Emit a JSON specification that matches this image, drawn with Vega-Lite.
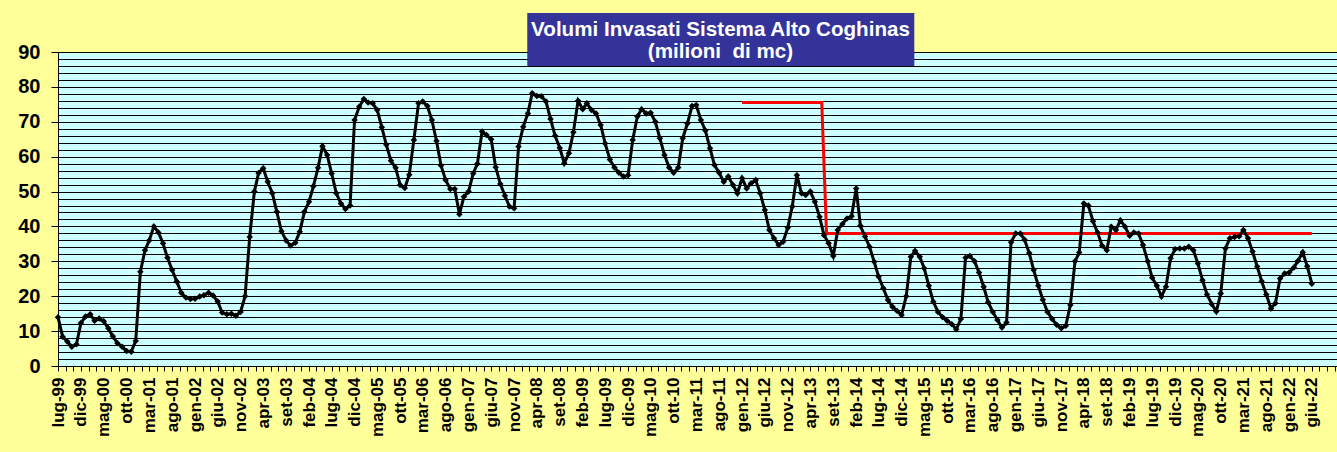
{
  "$schema": "https://vega.github.io/schema/vega-lite/v6.json",
  "autosize": {"type": "none"},
  "padding": {"left": 58, "top": 52, "right": 0, "bottom": 86},
  "width": 1279,
  "height": 314,
  "background": "#FFFF99",
  "title": {
    "text": ["Volumi Invasati Sistema Alto Coghinas", "(milioni \u00a0di mc)"],
    "font": "Liberation Sans",
    "fontSize": 20.6,
    "fontWeight": "bold",
    "color": "#FFFFFF",
    "lineHeight": 22,
    "anchor": "middle",
    "dx": 23,
    "offset": -50
  },
  "config": {
    "view": {"fill": "#CCFFFF", "stroke": "#000000", "strokeWidth": 1},
    "axis": {"labelFont": "Liberation Sans", "labelFontWeight": "bold", "labelColor": "#000000"}
  },
  "datasets": {
    "volumi": [
      {"d": "1999-07", "v": 14}, {"d": "1999-08", "v": 8.4}, {"d": "1999-09", "v": 7}, {"d": "1999-10", "v": 5.5}, {"d": "1999-11", "v": 6.2}, {"d": "1999-12", "v": 12.3},
      {"d": "2000-01", "v": 14.2}, {"d": "2000-02", "v": 14.8}, {"d": "2000-03", "v": 13}, {"d": "2000-04", "v": 13.6}, {"d": "2000-05", "v": 12.8}, {"d": "2000-06", "v": 10.8}, {"d": "2000-07", "v": 8.5}, {"d": "2000-08", "v": 6.5}, {"d": "2000-09", "v": 5.5}, {"d": "2000-10", "v": 4.3}, {"d": "2000-11", "v": 4.1}, {"d": "2000-12", "v": 7.2},
      {"d": "2001-01", "v": 27}, {"d": "2001-02", "v": 33.2}, {"d": "2001-03", "v": 36}, {"d": "2001-04", "v": 40}, {"d": "2001-05", "v": 38.3}, {"d": "2001-06", "v": 35.2}, {"d": "2001-07", "v": 31}, {"d": "2001-08", "v": 27.5}, {"d": "2001-09", "v": 24.2}, {"d": "2001-10", "v": 21}, {"d": "2001-11", "v": 19.6}, {"d": "2001-12", "v": 19.2},
      {"d": "2002-01", "v": 19.3}, {"d": "2002-02", "v": 19.9}, {"d": "2002-03", "v": 20.3}, {"d": "2002-04", "v": 21}, {"d": "2002-05", "v": 20.2}, {"d": "2002-06", "v": 18.5}, {"d": "2002-07", "v": 15.3}, {"d": "2002-08", "v": 14.8}, {"d": "2002-09", "v": 15}, {"d": "2002-10", "v": 14.4}, {"d": "2002-11", "v": 15.5}, {"d": "2002-12", "v": 20},
      {"d": "2003-01", "v": 37}, {"d": "2003-02", "v": 50}, {"d": "2003-03", "v": 55.3}, {"d": "2003-04", "v": 56.7}, {"d": "2003-05", "v": 52.8}, {"d": "2003-06", "v": 49.5}, {"d": "2003-07", "v": 44.2}, {"d": "2003-08", "v": 38.6}, {"d": "2003-09", "v": 36}, {"d": "2003-10", "v": 34.5}, {"d": "2003-11", "v": 35.3}, {"d": "2003-12", "v": 38.5},
      {"d": "2004-01", "v": 44.2}, {"d": "2004-02", "v": 47.1}, {"d": "2004-03", "v": 51.5}, {"d": "2004-04", "v": 56.8}, {"d": "2004-05", "v": 63}, {"d": "2004-06", "v": 60.5}, {"d": "2004-07", "v": 55.2}, {"d": "2004-08", "v": 49.5}, {"d": "2004-09", "v": 46.6}, {"d": "2004-10", "v": 45}, {"d": "2004-11", "v": 46}, {"d": "2004-12", "v": 70.5},
      {"d": "2005-01", "v": 74.3}, {"d": "2005-02", "v": 76.5}, {"d": "2005-03", "v": 75.5}, {"d": "2005-04", "v": 75.3}, {"d": "2005-05", "v": 73.4}, {"d": "2005-06", "v": 68.4}, {"d": "2005-07", "v": 63.4}, {"d": "2005-08", "v": 58.8}, {"d": "2005-09", "v": 56.8}, {"d": "2005-10", "v": 51.9}, {"d": "2005-11", "v": 51}, {"d": "2005-12", "v": 54.8},
      {"d": "2006-01", "v": 64.8}, {"d": "2006-02", "v": 75.3}, {"d": "2006-03", "v": 75.8}, {"d": "2006-04", "v": 74.5}, {"d": "2006-05", "v": 70.5}, {"d": "2006-06", "v": 64.5}, {"d": "2006-07", "v": 57.5}, {"d": "2006-08", "v": 53.3}, {"d": "2006-09", "v": 50.7}, {"d": "2006-10", "v": 50.7}, {"d": "2006-11", "v": 43.5}, {"d": "2006-12", "v": 48.5},
      {"d": "2007-01", "v": 50}, {"d": "2007-02", "v": 55.2}, {"d": "2007-03", "v": 58}, {"d": "2007-04", "v": 67.2}, {"d": "2007-05", "v": 66.2}, {"d": "2007-06", "v": 65}, {"d": "2007-07", "v": 57}, {"d": "2007-08", "v": 52.2}, {"d": "2007-09", "v": 48.8}, {"d": "2007-10", "v": 45.7}, {"d": "2007-11", "v": 45.2}, {"d": "2007-12", "v": 62.9},
      {"d": "2008-01", "v": 68.6}, {"d": "2008-02", "v": 72.4}, {"d": "2008-03", "v": 78.2}, {"d": "2008-04", "v": 77.4}, {"d": "2008-05", "v": 77.3}, {"d": "2008-06", "v": 75.8}, {"d": "2008-07", "v": 70.8}, {"d": "2008-08", "v": 66}, {"d": "2008-09", "v": 62.5}, {"d": "2008-10", "v": 58.1}, {"d": "2008-11", "v": 61}, {"d": "2008-12", "v": 67},
      {"d": "2009-01", "v": 76}, {"d": "2009-02", "v": 73.6}, {"d": "2009-03", "v": 75.3}, {"d": "2009-04", "v": 73.4}, {"d": "2009-05", "v": 72.4}, {"d": "2009-06", "v": 69.1}, {"d": "2009-07", "v": 63.8}, {"d": "2009-08", "v": 59.2}, {"d": "2009-09", "v": 56.9}, {"d": "2009-10", "v": 55.4}, {"d": "2009-11", "v": 54.3}, {"d": "2009-12", "v": 54.7},
      {"d": "2010-01", "v": 64.8}, {"d": "2010-02", "v": 71.5}, {"d": "2010-03", "v": 73.6}, {"d": "2010-04", "v": 72.4}, {"d": "2010-05", "v": 72.6}, {"d": "2010-06", "v": 70}, {"d": "2010-07", "v": 65.3}, {"d": "2010-08", "v": 60.5}, {"d": "2010-09", "v": 56.9}, {"d": "2010-10", "v": 55.4}, {"d": "2010-11", "v": 56.9}, {"d": "2010-12", "v": 65.3},
      {"d": "2011-01", "v": 69.5}, {"d": "2011-02", "v": 74.5}, {"d": "2011-03", "v": 74.8}, {"d": "2011-04", "v": 70.5}, {"d": "2011-05", "v": 67.5}, {"d": "2011-06", "v": 62.4}, {"d": "2011-07", "v": 57.6}, {"d": "2011-08", "v": 55.4}, {"d": "2011-09", "v": 52.8}, {"d": "2011-10", "v": 54.3}, {"d": "2011-11", "v": 51.9}, {"d": "2011-12", "v": 49.5},
      {"d": "2012-01", "v": 53.8}, {"d": "2012-02", "v": 50.9}, {"d": "2012-03", "v": 52.4}, {"d": "2012-04", "v": 53.3}, {"d": "2012-05", "v": 49.5}, {"d": "2012-06", "v": 44.7}, {"d": "2012-07", "v": 39}, {"d": "2012-08", "v": 36.6}, {"d": "2012-09", "v": 34.7}, {"d": "2012-10", "v": 35.6}, {"d": "2012-11", "v": 39.6}, {"d": "2012-12", "v": 45.7},
      {"d": "2013-01", "v": 54.7}, {"d": "2013-02", "v": 49.5}, {"d": "2013-03", "v": 49}, {"d": "2013-04", "v": 50}, {"d": "2013-05", "v": 47.1}, {"d": "2013-06", "v": 42.8}, {"d": "2013-07", "v": 37.5}, {"d": "2013-08", "v": 35.2}, {"d": "2013-09", "v": 31.5}, {"d": "2013-10", "v": 39}, {"d": "2013-11", "v": 40.7}, {"d": "2013-12", "v": 42.3},
      {"d": "2014-01", "v": 42.9}, {"d": "2014-02", "v": 50.9}, {"d": "2014-03", "v": 40.2}, {"d": "2014-04", "v": 37.1}, {"d": "2014-05", "v": 34.2}, {"d": "2014-06", "v": 29.9}, {"d": "2014-07", "v": 25.6}, {"d": "2014-08", "v": 22.3}, {"d": "2014-09", "v": 18.9}, {"d": "2014-10", "v": 17}, {"d": "2014-11", "v": 15.8}, {"d": "2014-12", "v": 14.6},
      {"d": "2015-01", "v": 20}, {"d": "2015-02", "v": 31.3}, {"d": "2015-03", "v": 33}, {"d": "2015-04", "v": 31.3}, {"d": "2015-05", "v": 28}, {"d": "2015-06", "v": 23}, {"d": "2015-07", "v": 18.4}, {"d": "2015-08", "v": 15.5}, {"d": "2015-09", "v": 14}, {"d": "2015-10", "v": 13}, {"d": "2015-11", "v": 12}, {"d": "2015-12", "v": 10.5},
      {"d": "2016-01", "v": 13.5}, {"d": "2016-02", "v": 31}, {"d": "2016-03", "v": 31.5}, {"d": "2016-04", "v": 30}, {"d": "2016-05", "v": 26.8}, {"d": "2016-06", "v": 22.7}, {"d": "2016-07", "v": 18.3}, {"d": "2016-08", "v": 15.5}, {"d": "2016-09", "v": 13.2}, {"d": "2016-10", "v": 11}, {"d": "2016-11", "v": 12.5}, {"d": "2016-12", "v": 35.5},
      {"d": "2017-01", "v": 38}, {"d": "2017-02", "v": 38}, {"d": "2017-03", "v": 36.2}, {"d": "2017-04", "v": 32.4}, {"d": "2017-05", "v": 27.5}, {"d": "2017-06", "v": 23}, {"d": "2017-07", "v": 19}, {"d": "2017-08", "v": 15.5}, {"d": "2017-09", "v": 13.5}, {"d": "2017-10", "v": 11.8}, {"d": "2017-11", "v": 10.8}, {"d": "2017-12", "v": 11.5},
      {"d": "2018-01", "v": 17.5}, {"d": "2018-02", "v": 30}, {"d": "2018-03", "v": 32.5}, {"d": "2018-04", "v": 46.6}, {"d": "2018-05", "v": 46}, {"d": "2018-06", "v": 41.5}, {"d": "2018-07", "v": 38.3}, {"d": "2018-08", "v": 34.5}, {"d": "2018-09", "v": 33.2}, {"d": "2018-10", "v": 39.9}, {"d": "2018-11", "v": 39}, {"d": "2018-12", "v": 41.8},
      {"d": "2019-01", "v": 39.9}, {"d": "2019-02", "v": 37.3}, {"d": "2019-03", "v": 38.3}, {"d": "2019-04", "v": 38}, {"d": "2019-05", "v": 34.7}, {"d": "2019-06", "v": 30}, {"d": "2019-07", "v": 25.3}, {"d": "2019-08", "v": 23}, {"d": "2019-09", "v": 19.9}, {"d": "2019-10", "v": 22.7}, {"d": "2019-11", "v": 30.9}, {"d": "2019-12", "v": 33.5},
      {"d": "2020-01", "v": 33.7}, {"d": "2020-02", "v": 33.7}, {"d": "2020-03", "v": 34.2}, {"d": "2020-04", "v": 33.2}, {"d": "2020-05", "v": 29.4}, {"d": "2020-06", "v": 24.6}, {"d": "2020-07", "v": 20.5}, {"d": "2020-08", "v": 17.8}, {"d": "2020-09", "v": 15.6}, {"d": "2020-10", "v": 20.8}, {"d": "2020-11", "v": 33.7}, {"d": "2020-12", "v": 36.6},
      {"d": "2021-01", "v": 37}, {"d": "2021-02", "v": 37.2}, {"d": "2021-03", "v": 39}, {"d": "2021-04", "v": 36.6}, {"d": "2021-05", "v": 32.8}, {"d": "2021-06", "v": 28.5}, {"d": "2021-07", "v": 24.3}, {"d": "2021-08", "v": 20.5}, {"d": "2021-09", "v": 16.5}, {"d": "2021-10", "v": 18}, {"d": "2021-11", "v": 25.1}, {"d": "2021-12", "v": 26.5},
      {"d": "2022-01", "v": 26.8}, {"d": "2022-02", "v": 28.2}, {"d": "2022-03", "v": 30.2}, {"d": "2022-04", "v": 32.6}, {"d": "2022-05", "v": 28.6}, {"d": "2022-06", "v": 23.6}
    ],
    "riferimento": [
      {"d": "2012-01-01", "v": 75.5},
      {"d": "2013-06-16", "v": 75.5},
      {"d": "2013-07-18", "v": 38},
      {"d": "2022-06-01", "v": 38}
    ]
  },
  "layer": [
    {
      "data": {"values": [{"box": "titolo"}]},
      "mark": {"type": "rect", "color": "#333399"},
      "encoding": {
        "x": {"datum": {"year": 2008, "month": 1, "date": 28, "utc": true}, "type": "temporal"},
        "x2": {"datum": {"year": 2015, "month": 2, "date": 24, "utc": true}},
        "y": {"datum": 101.2, "type": "quantitative"},
        "y2": {"datum": 86}
      }
    },
    {
      "data": {"name": "riferimento"},
      "mark": {"type": "line", "color": "#FF0000", "strokeWidth": 3, "interpolate": "linear"},
      "encoding": {
        "x": {"field": "d", "type": "temporal", "title": null},
        "y": {"field": "v", "type": "quantitative", "title": null}
      }
    },
    {
      "data": {"name": "volumi"},
      "mark": {
        "type": "line",
        "color": "#000000",
        "strokeWidth": 3,
        "point": {"shape": "diamond", "size": 42, "filled": true, "color": "#000000"}
      },
      "encoding": {
        "x": {
          "field": "d",
          "type": "temporal",
          "title": null,
          "scale": {"type": "utc", "domain": [{"year": 1999, "month": 7, "date": 1, "utc": true}, {"year": 2022, "month": 11, "date": 16, "utc": true}], "nice": false},
          "axis": {
            "grid": false,
            "tickCount": 1000,
            "domainColor": "#000000",
            "domainWidth": 1,
            "tickColor": "#000000",
            "tickSize": 5,
            "labelAngle": -90,
            "labelFontSize": 17,
            "labelPadding": 6,
            "labelOverlap": false,
            "labelFlush": false,
            "labelBound": false,
            "labelExpr": "utcdate(datum.value) == 1 && (utcyear(datum.value) * 12 + utcmonth(datum.value)) <= 24269 ? ['gen','feb','mar','apr','mag','giu','lug','ago','set','ott','nov','dic'][utcmonth(datum.value)] + '-' + utcFormat(datum.value, '%y') : ''",
            "values": [
              {"year": 1999, "month": 7, "date": 1, "utc": true}, {"year": 1999, "month": 8, "date": 21, "utc": true}, {"year": 1999, "month": 10, "date": 11, "utc": true},
              {"year": 1999, "month": 12, "date": 1, "utc": true}, {"year": 2000, "month": 1, "date": 21, "utc": true}, {"year": 2000, "month": 3, "date": 11, "utc": true},
              {"year": 2000, "month": 5, "date": 1, "utc": true}, {"year": 2000, "month": 6, "date": 21, "utc": true}, {"year": 2000, "month": 8, "date": 11, "utc": true},
              {"year": 2000, "month": 10, "date": 1, "utc": true}, {"year": 2000, "month": 11, "date": 21, "utc": true}, {"year": 2001, "month": 1, "date": 11, "utc": true},
              {"year": 2001, "month": 3, "date": 1, "utc": true}, {"year": 2001, "month": 4, "date": 21, "utc": true}, {"year": 2001, "month": 6, "date": 11, "utc": true},
              {"year": 2001, "month": 8, "date": 1, "utc": true}, {"year": 2001, "month": 9, "date": 21, "utc": true}, {"year": 2001, "month": 11, "date": 11, "utc": true},
              {"year": 2002, "month": 1, "date": 1, "utc": true}, {"year": 2002, "month": 2, "date": 21, "utc": true}, {"year": 2002, "month": 4, "date": 11, "utc": true},
              {"year": 2002, "month": 6, "date": 1, "utc": true}, {"year": 2002, "month": 7, "date": 21, "utc": true}, {"year": 2002, "month": 9, "date": 11, "utc": true},
              {"year": 2002, "month": 11, "date": 1, "utc": true}, {"year": 2002, "month": 12, "date": 21, "utc": true}, {"year": 2003, "month": 2, "date": 11, "utc": true},
              {"year": 2003, "month": 4, "date": 1, "utc": true}, {"year": 2003, "month": 5, "date": 21, "utc": true}, {"year": 2003, "month": 7, "date": 11, "utc": true},
              {"year": 2003, "month": 9, "date": 1, "utc": true}, {"year": 2003, "month": 10, "date": 21, "utc": true}, {"year": 2003, "month": 12, "date": 11, "utc": true},
              {"year": 2004, "month": 2, "date": 1, "utc": true}, {"year": 2004, "month": 3, "date": 21, "utc": true}, {"year": 2004, "month": 5, "date": 11, "utc": true},
              {"year": 2004, "month": 7, "date": 1, "utc": true}, {"year": 2004, "month": 8, "date": 21, "utc": true}, {"year": 2004, "month": 10, "date": 11, "utc": true},
              {"year": 2004, "month": 12, "date": 1, "utc": true}, {"year": 2005, "month": 1, "date": 21, "utc": true}, {"year": 2005, "month": 3, "date": 11, "utc": true},
              {"year": 2005, "month": 5, "date": 1, "utc": true}, {"year": 2005, "month": 6, "date": 21, "utc": true}, {"year": 2005, "month": 8, "date": 11, "utc": true},
              {"year": 2005, "month": 10, "date": 1, "utc": true}, {"year": 2005, "month": 11, "date": 21, "utc": true}, {"year": 2006, "month": 1, "date": 11, "utc": true},
              {"year": 2006, "month": 3, "date": 1, "utc": true}, {"year": 2006, "month": 4, "date": 21, "utc": true}, {"year": 2006, "month": 6, "date": 11, "utc": true},
              {"year": 2006, "month": 8, "date": 1, "utc": true}, {"year": 2006, "month": 9, "date": 21, "utc": true}, {"year": 2006, "month": 11, "date": 11, "utc": true},
              {"year": 2007, "month": 1, "date": 1, "utc": true}, {"year": 2007, "month": 2, "date": 21, "utc": true}, {"year": 2007, "month": 4, "date": 11, "utc": true},
              {"year": 2007, "month": 6, "date": 1, "utc": true}, {"year": 2007, "month": 7, "date": 21, "utc": true}, {"year": 2007, "month": 9, "date": 11, "utc": true},
              {"year": 2007, "month": 11, "date": 1, "utc": true}, {"year": 2007, "month": 12, "date": 21, "utc": true}, {"year": 2008, "month": 2, "date": 11, "utc": true},
              {"year": 2008, "month": 4, "date": 1, "utc": true}, {"year": 2008, "month": 5, "date": 21, "utc": true}, {"year": 2008, "month": 7, "date": 11, "utc": true},
              {"year": 2008, "month": 9, "date": 1, "utc": true}, {"year": 2008, "month": 10, "date": 21, "utc": true}, {"year": 2008, "month": 12, "date": 11, "utc": true},
              {"year": 2009, "month": 2, "date": 1, "utc": true}, {"year": 2009, "month": 3, "date": 21, "utc": true}, {"year": 2009, "month": 5, "date": 11, "utc": true},
              {"year": 2009, "month": 7, "date": 1, "utc": true}, {"year": 2009, "month": 8, "date": 21, "utc": true}, {"year": 2009, "month": 10, "date": 11, "utc": true},
              {"year": 2009, "month": 12, "date": 1, "utc": true}, {"year": 2010, "month": 1, "date": 21, "utc": true}, {"year": 2010, "month": 3, "date": 11, "utc": true},
              {"year": 2010, "month": 5, "date": 1, "utc": true}, {"year": 2010, "month": 6, "date": 21, "utc": true}, {"year": 2010, "month": 8, "date": 11, "utc": true},
              {"year": 2010, "month": 10, "date": 1, "utc": true}, {"year": 2010, "month": 11, "date": 21, "utc": true}, {"year": 2011, "month": 1, "date": 11, "utc": true},
              {"year": 2011, "month": 3, "date": 1, "utc": true}, {"year": 2011, "month": 4, "date": 21, "utc": true}, {"year": 2011, "month": 6, "date": 11, "utc": true},
              {"year": 2011, "month": 8, "date": 1, "utc": true}, {"year": 2011, "month": 9, "date": 21, "utc": true}, {"year": 2011, "month": 11, "date": 11, "utc": true},
              {"year": 2012, "month": 1, "date": 1, "utc": true}, {"year": 2012, "month": 2, "date": 21, "utc": true}, {"year": 2012, "month": 4, "date": 11, "utc": true},
              {"year": 2012, "month": 6, "date": 1, "utc": true}, {"year": 2012, "month": 7, "date": 21, "utc": true}, {"year": 2012, "month": 9, "date": 11, "utc": true},
              {"year": 2012, "month": 11, "date": 1, "utc": true}, {"year": 2012, "month": 12, "date": 21, "utc": true}, {"year": 2013, "month": 2, "date": 11, "utc": true},
              {"year": 2013, "month": 4, "date": 1, "utc": true}, {"year": 2013, "month": 5, "date": 21, "utc": true}, {"year": 2013, "month": 7, "date": 11, "utc": true},
              {"year": 2013, "month": 9, "date": 1, "utc": true}, {"year": 2013, "month": 10, "date": 21, "utc": true}, {"year": 2013, "month": 12, "date": 11, "utc": true},
              {"year": 2014, "month": 2, "date": 1, "utc": true}, {"year": 2014, "month": 3, "date": 21, "utc": true}, {"year": 2014, "month": 5, "date": 11, "utc": true},
              {"year": 2014, "month": 7, "date": 1, "utc": true}, {"year": 2014, "month": 8, "date": 21, "utc": true}, {"year": 2014, "month": 10, "date": 11, "utc": true},
              {"year": 2014, "month": 12, "date": 1, "utc": true}, {"year": 2015, "month": 1, "date": 21, "utc": true}, {"year": 2015, "month": 3, "date": 11, "utc": true},
              {"year": 2015, "month": 5, "date": 1, "utc": true}, {"year": 2015, "month": 6, "date": 21, "utc": true}, {"year": 2015, "month": 8, "date": 11, "utc": true},
              {"year": 2015, "month": 10, "date": 1, "utc": true}, {"year": 2015, "month": 11, "date": 21, "utc": true}, {"year": 2016, "month": 1, "date": 11, "utc": true},
              {"year": 2016, "month": 3, "date": 1, "utc": true}, {"year": 2016, "month": 4, "date": 21, "utc": true}, {"year": 2016, "month": 6, "date": 11, "utc": true},
              {"year": 2016, "month": 8, "date": 1, "utc": true}, {"year": 2016, "month": 9, "date": 21, "utc": true}, {"year": 2016, "month": 11, "date": 11, "utc": true},
              {"year": 2017, "month": 1, "date": 1, "utc": true}, {"year": 2017, "month": 2, "date": 21, "utc": true}, {"year": 2017, "month": 4, "date": 11, "utc": true},
              {"year": 2017, "month": 6, "date": 1, "utc": true}, {"year": 2017, "month": 7, "date": 21, "utc": true}, {"year": 2017, "month": 9, "date": 11, "utc": true},
              {"year": 2017, "month": 11, "date": 1, "utc": true}, {"year": 2017, "month": 12, "date": 21, "utc": true}, {"year": 2018, "month": 2, "date": 11, "utc": true},
              {"year": 2018, "month": 4, "date": 1, "utc": true}, {"year": 2018, "month": 5, "date": 21, "utc": true}, {"year": 2018, "month": 7, "date": 11, "utc": true},
              {"year": 2018, "month": 9, "date": 1, "utc": true}, {"year": 2018, "month": 10, "date": 21, "utc": true}, {"year": 2018, "month": 12, "date": 11, "utc": true},
              {"year": 2019, "month": 2, "date": 1, "utc": true}, {"year": 2019, "month": 3, "date": 21, "utc": true}, {"year": 2019, "month": 5, "date": 11, "utc": true},
              {"year": 2019, "month": 7, "date": 1, "utc": true}, {"year": 2019, "month": 8, "date": 21, "utc": true}, {"year": 2019, "month": 10, "date": 11, "utc": true},
              {"year": 2019, "month": 12, "date": 1, "utc": true}, {"year": 2020, "month": 1, "date": 21, "utc": true}, {"year": 2020, "month": 3, "date": 11, "utc": true},
              {"year": 2020, "month": 5, "date": 1, "utc": true}, {"year": 2020, "month": 6, "date": 21, "utc": true}, {"year": 2020, "month": 8, "date": 11, "utc": true},
              {"year": 2020, "month": 10, "date": 1, "utc": true}, {"year": 2020, "month": 11, "date": 21, "utc": true}, {"year": 2021, "month": 1, "date": 11, "utc": true},
              {"year": 2021, "month": 3, "date": 1, "utc": true}, {"year": 2021, "month": 4, "date": 21, "utc": true}, {"year": 2021, "month": 6, "date": 11, "utc": true},
              {"year": 2021, "month": 8, "date": 1, "utc": true}, {"year": 2021, "month": 9, "date": 21, "utc": true}, {"year": 2021, "month": 11, "date": 11, "utc": true},
              {"year": 2022, "month": 1, "date": 1, "utc": true}, {"year": 2022, "month": 2, "date": 21, "utc": true}, {"year": 2022, "month": 4, "date": 11, "utc": true},
              {"year": 2022, "month": 6, "date": 1, "utc": true}, {"year": 2022, "month": 7, "date": 21, "utc": true}, {"year": 2022, "month": 9, "date": 11, "utc": true},
              {"year": 2022, "month": 11, "date": 1, "utc": true}
            ]
          }
        },
        "y": {
          "field": "v",
          "type": "quantitative",
          "title": null,
          "scale": {"domain": [0, 90], "nice": false, "zero": true},
          "axis": {
            "values": [0, 2, 4, 6, 8, 10, 12, 14, 16, 18, 20, 22, 24, 26, 28, 30, 32, 34, 36, 38, 40, 42, 44, 46, 48, 50, 52, 54, 56, 58, 60, 62, 64, 66, 68, 70, 72, 74, 76, 78, 80, 82, 84, 86, 88, 90],
            "tickCount": 1000,
            "format": "d",
            "grid": true,
            "gridColor": "#000000",
            "gridWidth": 1,
            "gridOpacity": 1,
            "domainColor": "#000000",
            "domainWidth": 1,
            "tickColor": "#000000",
            "tickSize": 7,
            "tickOpacity": {"condition": {"test": "datum.value % 10 == 0", "value": 1}, "value": 0},
            "labelFontSize": 20,
            "labelPadding": 11,
            "labelOverlap": false,
            "labelFlush": false,
            "labelExpr": "datum.value % 10 == 0 ? datum.label : ''"
          }
        }
      }
    }
  ]
}
